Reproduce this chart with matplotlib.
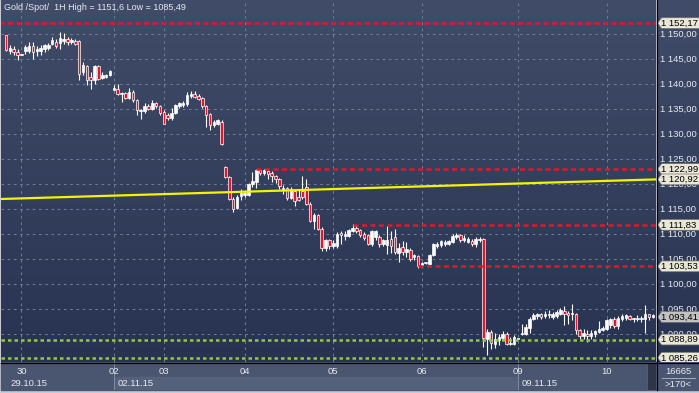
import numpy as np
import matplotlib
matplotlib.use('Agg')
import matplotlib.pyplot as plt
from matplotlib.colors import LinearSegmentedColormap
from matplotlib.patches import Polygon, Rectangle

# ---------------- data ----------------
opens = [1149.8, 1146.7, 1147.1, 1146.5, 1145.9, 1146.6, 1146.7, 1147.7, 1146.6, 1146.6,
         1147.0, 1147.3, 1148.1, 1148.5, 1148.3, 1148.6, 1149.0, 1148.5, 1148.7, 1148.6,
         1142.5, 1143.7, 1141.5, 1140.8, 1143.7, 1141.3, 1141.5, 1141.9, 1138.9, 1139.1,
         1138.0, 1138.3, 1137.3, 1138.5, 1136.9, 1134.7, 1134.7, 1135.6, 1135.1, 1136.3,
         1135.6, 1134.5, 1133.8, 1133.3, 1134.3, 1135.6, 1135.9, 1136.1, 1137.6, 1138.1,
         1137.6, 1137.3, 1135.6, 1134.1, 1131.8, 1132.1, 1132.5, 1123.5, 1121.5, 1117.1,
         1115.3, 1117.7, 1117.9, 1117.8, 1120.0, 1120.5, 1122.8, 1122.3, 1122.6, 1122.3,
         1121.7, 1121.1, 1118.8, 1119.3, 1117.3, 1118.6, 1117.5, 1118.6, 1119.5, 1116.1,
         1112.6, 1113.8, 1111.1, 1107.3, 1108.8, 1107.6, 1107.6, 1110.3, 1109.6, 1109.6,
         1110.7, 1111.3, 1110.9, 1110.0, 1109.8, 1108.1, 1109.5, 1109.5, 1108.0, 1107.8,
         1109.1, 1109.5, 1106.3, 1107.5, 1106.5, 1106.9, 1105.5, 1105.6, 1103.8, 1104.2,
         1104.1, 1105.8, 1107.6, 1107.8, 1108.0, 1108.0, 1108.5, 1109.5, 1109.8, 1108.8,
         1108.5, 1108.7, 1108.0, 1108.9, 1109.0, 1089.1, 1090.5, 1088.1, 1088.8, 1089.3,
         1090.1, 1088.0, 1088.0, 1089.1, 1090.0, 1090.1, 1091.3, 1093.0, 1093.6, 1094.1,
         1093.6, 1093.8, 1093.5, 1093.6, 1094.1, 1094.7, 1094.3, 1094.1, 1094.0, 1090.8,
         1089.6, 1090.1, 1089.6, 1090.1, 1090.5, 1090.9, 1091.1, 1091.8, 1093.1, 1091.6,
         1093.1, 1093.3, 1093.6, 1093.1, 1093.1, 1093.1, 1093.1, 1094.0, 1093.5]
highs = [1149.9, 1147.9, 1147.7, 1147.0, 1146.0, 1147.8, 1148.5, 1148.5, 1147.7, 1147.8,
         1148.1, 1148.3, 1149.5, 1149.1, 1150.5, 1150.3, 1149.5, 1149.3, 1149.0, 1148.8,
         1144.5, 1143.9, 1142.5, 1143.9, 1143.9, 1142.5, 1142.1, 1142.9, 1139.8, 1140.1,
         1138.5, 1138.5, 1139.3, 1138.9, 1137.1, 1135.0, 1136.3, 1136.1, 1136.9, 1136.5,
         1135.8, 1134.8, 1134.3, 1135.3, 1136.1, 1136.5, 1136.7, 1138.5, 1138.7, 1138.7,
         1138.0, 1137.5, 1135.8, 1134.3, 1132.9, 1133.1, 1132.8, 1123.7, 1121.7, 1117.5,
         1117.8, 1119.0, 1118.8, 1120.3, 1122.5, 1123.0, 1123.1, 1123.1, 1123.0, 1122.6,
         1121.9, 1121.3, 1119.8, 1119.5, 1119.5, 1119.1, 1118.8, 1121.7, 1121.0, 1116.5,
         1114.3, 1114.1, 1111.5, 1109.1, 1109.1, 1108.8, 1110.5, 1110.7, 1110.7, 1111.1,
         1112.0, 1111.8, 1111.1, 1110.5, 1110.1, 1110.8, 1110.9, 1109.8, 1109.1, 1111.6,
         1110.7, 1111.1, 1108.3, 1108.7, 1108.5, 1107.3, 1106.1, 1105.8, 1104.5, 1104.3,
         1106.1, 1108.3, 1108.5, 1108.8, 1108.9, 1108.9, 1110.0, 1110.3, 1110.1, 1109.8,
         1109.5, 1109.1, 1109.5, 1109.5, 1109.2, 1091.0, 1090.8, 1090.3, 1090.1, 1090.7,
         1090.5, 1089.5, 1089.8, 1089.2, 1092.0, 1092.0, 1093.5, 1094.3, 1094.3, 1094.3,
         1094.7, 1094.8, 1094.5, 1094.9, 1095.3, 1095.6, 1094.7, 1096.0, 1094.3, 1091.1,
         1091.1, 1090.9, 1090.9, 1090.9, 1092.7, 1091.6, 1093.1, 1093.3, 1093.5, 1093.6,
         1094.0, 1094.0, 1093.8, 1093.3, 1093.8, 1093.6, 1095.8, 1094.1, 1094.0]
lows = [1146.6, 1146.1, 1145.9, 1144.9, 1145.8, 1146.1, 1146.3, 1145.0, 1145.7, 1145.9,
        1146.5, 1146.8, 1147.8, 1147.3, 1147.1, 1148.1, 1147.9, 1148.1, 1147.9, 1140.8,
        1141.9, 1139.9, 1139.1, 1140.1, 1140.8, 1141.1, 1141.3, 1141.6, 1138.8, 1137.8,
        1136.5, 1137.1, 1137.1, 1136.5, 1133.8, 1133.1, 1134.3, 1134.8, 1134.8, 1135.3,
        1133.8, 1132.0, 1132.9, 1132.9, 1134.1, 1135.3, 1135.5, 1135.6, 1137.3, 1137.3,
        1136.8, 1135.3, 1131.5, 1130.8, 1131.5, 1131.9, 1127.8, 1121.3, 1116.8, 1114.5,
        1115.1, 1116.8, 1117.5, 1117.7, 1119.5, 1119.3, 1121.9, 1121.8, 1121.1, 1120.5,
        1120.3, 1119.1, 1118.1, 1116.8, 1117.1, 1115.7, 1116.6, 1117.0, 1115.8, 1112.5,
        1111.0, 1110.8, 1106.7, 1106.7, 1107.1, 1107.3, 1107.3, 1108.1, 1108.8, 1109.5,
        1110.5, 1110.3, 1109.5, 1108.8, 1107.8, 1107.6, 1108.9, 1107.5, 1107.6, 1106.0,
        1106.3, 1106.1, 1104.5, 1105.8, 1105.5, 1104.7, 1104.9, 1103.3, 1103.5, 1104.1,
        1104.0, 1105.6, 1107.3, 1107.5, 1107.6, 1107.8, 1108.3, 1109.1, 1108.5, 1108.5,
        1108.3, 1107.6, 1107.5, 1108.5, 1087.4, 1085.8, 1087.1, 1087.3, 1087.8, 1088.8,
        1087.8, 1087.8, 1087.8, 1089.0, 1089.8, 1089.8, 1090.3, 1092.8, 1093.1, 1093.1,
        1093.3, 1093.3, 1093.1, 1093.3, 1093.8, 1091.8, 1092.0, 1092.8, 1090.1, 1089.1,
        1089.1, 1088.5, 1089.1, 1089.5, 1090.3, 1090.7, 1090.9, 1091.3, 1091.3, 1091.1,
        1092.7, 1092.9, 1092.8, 1092.5, 1092.7, 1092.5, 1090.3, 1092.8, 1093.2]
closes = [1146.8, 1147.3, 1146.5, 1145.9, 1145.9, 1147.4, 1147.7, 1146.5, 1147.0, 1147.3,
          1147.8, 1147.9, 1148.8, 1147.7, 1149.3, 1149.1, 1148.5, 1148.8, 1148.1, 1142.1,
          1143.8, 1140.8, 1140.8, 1143.7, 1141.1, 1141.9, 1141.9, 1142.6, 1139.3, 1138.0,
          1138.3, 1137.3, 1138.5, 1136.9, 1134.8, 1134.9, 1135.6, 1135.1, 1136.3, 1135.6,
          1134.3, 1132.1, 1133.3, 1134.3, 1135.8, 1136.3, 1136.3, 1137.8, 1138.1, 1137.5,
          1137.1, 1135.6, 1133.8, 1131.8, 1132.5, 1132.8, 1128.0, 1121.5, 1117.1, 1115.1,
          1117.5, 1118.3, 1118.3, 1120.1, 1120.6, 1122.8, 1122.3, 1122.8, 1122.1, 1121.7,
          1121.0, 1119.7, 1119.3, 1117.3, 1119.0, 1116.6, 1116.8, 1117.5, 1116.1, 1112.6,
          1113.8, 1111.1, 1107.3, 1108.8, 1107.6, 1108.3, 1110.1, 1109.8, 1110.1, 1110.8,
          1111.3, 1110.7, 1109.8, 1109.3, 1108.1, 1110.7, 1110.7, 1108.0, 1108.8, 1108.8,
          1107.6, 1106.5, 1107.3, 1106.5, 1107.1, 1105.1, 1105.8, 1103.6, 1104.3, 1104.2,
          1105.8, 1108.1, 1108.1, 1108.7, 1108.5, 1108.7, 1109.6, 1109.8, 1108.9, 1109.3,
          1109.0, 1108.0, 1109.1, 1108.9, 1089.2, 1090.5, 1088.3, 1089.1, 1089.5, 1090.1,
          1088.1, 1088.3, 1089.5, 1089.1, 1090.3, 1091.5, 1093.0, 1093.8, 1094.1, 1093.5,
          1094.0, 1093.8, 1094.0, 1094.5, 1094.8, 1094.0, 1093.8, 1094.1, 1090.8, 1089.6,
          1090.3, 1089.6, 1090.3, 1090.7, 1091.1, 1091.3, 1092.9, 1093.1, 1091.6, 1093.3,
          1093.6, 1093.8, 1093.1, 1093.1, 1093.1, 1093.1, 1094.0, 1093.5, 1093.8]

day_labels = ['30', '02', '03', '04', '05', '06', '09', '10']
day_start = [4, 28, 41, 62, 85, 108, 133, 156]
date_labels = ['29.10.15', '02.11.15', '09.11.15']
date_start = [0, 28, 133]
week_start = [28, 133]

y_ticks = [1150, 1145, 1140, 1135, 1130, 1125, 1120, 1115, 1110, 1105, 1100, 1095, 1090]
red_levels = [1152.17, 1122.99, 1111.83, 1103.53]
red_level_start = [-2, 65, 90, 107]
green_levels = [1088.89, 1085.26]
trend_values = [1117.0, 1120.92]
last_price = 1093.41

title = 'Gold /Spot/  1H High = 1151,6 Low = 1085,49'
bar_count_label = '16665'
visible_label = '>170<'

# ---------------- style ----------------
W, H = 699, 393
FONT = 'Liberation Sans'
FS = 6.8
plt.rcParams['font.family'] = [FONT, 'DejaVu Sans']

RED = '#e5162b'
GREEN = '#93c840'
YELLOW = '#f4f400'
GRID = '#6e7c97'
TXT = '#e6eaf0'
PANEL = '#4a5670'

XMIN, XMAX = -1.3, 168.83
YMIN, YMAX = 1084.4, 1156.8


def fmt(v):
    return f'{v:,.2f}'.replace(',', ' ').replace('.', ',')


grad_cmap = LinearSegmentedColormap.from_list('bg', ['#273350', '#414c69'])
grad = np.linspace(0, 1, 256).reshape(-1, 1)

fig = plt.figure(figsize=(W / 100, H / 100), dpi=100, facecolor='#c6cad3')

# background panels (pixel coords)
bg = fig.add_axes([0, 0, 1, 1], zorder=0)
bg.set_xlim(0, W)
bg.set_ylim(H, 0)
bg.axis('off')
bg.add_patch(Rectangle((1, 362), 698, 28, color=PANEL))
bg.plot([662, 695], [378, 378], color='#a4adbf', lw=0.7)
bg.text(678, 371.5, bar_count_label, ha='center', va='center', fontsize=FS, color=TXT)
bg.text(678, 384.5, visible_label, ha='center', va='center', fontsize=FS, color=TXT)

# main plot
ax = fig.add_axes([1 / W, 31 / H, 655 / W, 362 / H], zorder=1)
ax.set_xlim(XMIN, XMAX)
ax.set_ylim(YMIN, YMAX)
ax.axis('off')
ax.imshow(grad, cmap=grad_cmap, aspect='auto', extent=[0, 1, 0, 1],
          transform=ax.transAxes, origin='lower', zorder=0)

for yt in y_ticks:
    ax.plot([XMIN, XMAX], [yt, yt], color=GRID, lw=0.75, dashes=(2.5, 3.5), zorder=1)
for ds in day_start:
    ax.plot([ds, ds], [YMIN, YMAX], color=GRID, lw=0.75, dashes=(2.5, 3.5), zorder=1)

o = np.array(opens)
h = np.array(highs)
l = np.array(lows)
c = np.array(closes)
x = np.arange(len(o))
ax.vlines(x, l, h, color='white', lw=0.8, zorder=3)
body_bottom = np.minimum(o, c)
body_h = np.maximum(np.abs(c - o), 0.12)
colors = np.where(c < o, RED, 'white')
ax.bar(x, body_h, bottom=body_bottom, width=0.66, color=colors,
       edgecolor='white', linewidth=0.5, zorder=4)

for v, s in zip(red_levels, red_level_start):
    ax.plot([s, XMAX], [v, v], color=RED, lw=1.8, dashes=(2.0, 1.4), zorder=5)
for v in green_levels:
    ax.plot([XMIN, XMAX], [v, v], color=GREEN, lw=1.8, dashes=(1.4, 1.2), zorder=5)
ax.plot([XMIN, XMAX], trend_values, color=YELLOW, lw=1.6, zorder=6)

ax.text(3 / 655, 1 - 7 / 362, title, transform=ax.transAxes, ha='left', va='center',
        fontsize=6.5, color=TXT, zorder=7)

# right price panel
rax = fig.add_axes([657 / W, 31 / H, 42 / W, 362 / H], zorder=1)
rax.set_xlim(0, 42)
rax.set_ylim(YMIN, YMAX)
rax.axis('off')
rax.imshow(grad, cmap=grad_cmap, aspect='auto', extent=[0, 1, 0, 1],
           transform=rax.transAxes, origin='lower', zorder=0)
for yt in y_ticks:
    rax.text(3.5, yt, fmt(yt), ha='left', va='center', fontsize=FS, color=TXT, zorder=1)

tags = [(v, '#e9e7d6') for v in red_levels]
tags += [(trend_values[1], '#e9e7d6'), (last_price, '#c2c2c2')]
tags += [(v, '#e9e7d6') for v in green_levels]
hh = 1.08
for v, col in tags:
    rax.add_patch(Polygon([(0.6, v), (4.6, v + hh), (42.5, v + hh), (42.5, v - hh), (4.6, v - hh)],
                          closed=True, facecolor=col, edgecolor='#6f6f6f', lw=0.5, zorder=3))
    rax.text(4.2, v - 0.05, fmt(v), ha='left', va='center', fontsize=FS, color='black', zorder=4)

# bottom time axis
bax = fig.add_axes([1 / W, 3 / H, 655 / W, 28 / H], zorder=1)
bax.set_xlim(XMIN, XMAX)
bax.set_ylim(0, 1)
bax.axis('off')
bax.add_patch(Rectangle((XMIN, 0), XMAX - XMIN, 1, color=PANEL, zorder=0))
bax.add_patch(Rectangle((week_start[0], 0), week_start[1] - week_start[0], 0.46,
                        color='#55617b', zorder=1))
for ws in week_start:
    bax.plot([ws, ws], [0, 1], color='#7f8ca6', lw=0.7, zorder=2)
for lab, ds in zip(day_labels, day_start):
    bax.text(ds, 0.66, lab, ha='center', va='center', fontsize=FS, color=TXT, zorder=3)
for lab, ds in zip(date_labels, date_start):
    bax.text(ds + 1.05, 0.22, lab, ha='left', va='center', fontsize=FS, color=TXT, zorder=3)

# overlay separators
ov = fig.add_axes([0, 0, 1, 1], zorder=5)
ov.set_xlim(0, W)
ov.set_ylim(H, 0)
ov.axis('off')
ov.patch.set_alpha(0)
ov.add_patch(Rectangle((647, 363), 9, 27, facecolor='#2d3547', edgecolor='#5a6580', lw=0.5))
ov.plot([656.5, 656.5], [0, 390], color='black', lw=0.9)
ov.plot([1, 699], [362.5, 362.5], color='black', lw=0.9)

fig.savefig('out.png', dpi=100, facecolor=fig.get_facecolor())
